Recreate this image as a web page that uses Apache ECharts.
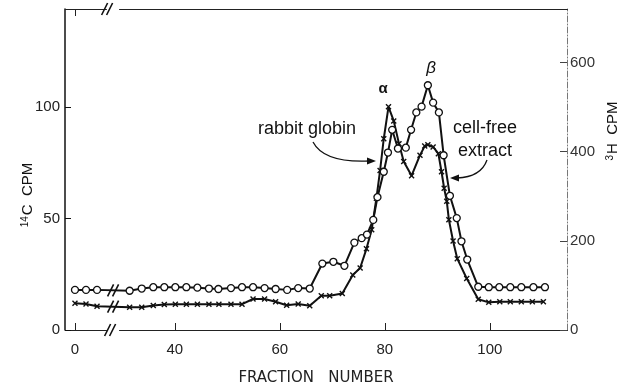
<!DOCTYPE html>
<html>
<head>
<meta charset="utf-8">
<script src="https://cdn.jsdelivr.net/npm/echarts@6/dist/echarts.min.js"></script>
<style>
html, body { margin: 0; padding: 0; background: #fff; }
#chart { width: 638px; height: 391px; }
</style>
</head>
<body>
<div id="chart"></div>
<script>
// rabbit globin, 14C (crosses) - fraction number / cpm
const fracGlobin = [0, 2.1, 4.2, 31.4, 33.7, 35.9, 38.0, 40.1, 42.2, 44.3, 46.5, 48.4, 50.7, 52.8, 54.9, 57.1,
  59.2, 61.3, 63.5, 65.7, 67.9, 69.5, 71.9, 73.9, 75.3, 76.5, 77.5, 78.4, 79.1, 79.8, 80.7, 81.7, 82.7, 83.6,
  85.1, 86.7, 87.6, 88.2, 89.2, 90.2, 90.8, 91.3, 91.8, 92.2, 93.0, 93.8, 95.6, 97.8, 99.8, 101.9, 103.9,
  106.0, 108.1, 110.2]
const cpm14C = [12.0, 11.7, 10.7, 10.2, 10.2, 11.0, 11.4, 11.6, 11.6, 11.6, 11.6, 11.6, 11.6, 11.6, 13.9, 13.9,
  12.7, 11.1, 11.7, 10.9, 15.4, 15.4, 16.4, 24.7, 27.8, 36.4, 45.0, 59.1, 71.6, 85.8, 100.1, 93.8, 83.6, 75.6,
  69.2, 78.4, 82.5, 83.1, 82.1, 79.1, 71.0, 63.6, 57.8, 49.5, 39.9, 32.0, 23.1, 13.8, 12.4, 12.7, 12.7,
  12.7, 12.7, 12.7]

// cell-free extract, 3H (open circles)
const fracExtract = [0, 2.1, 4.2, 31.4, 33.7, 35.9, 38.0, 40.1, 42.2, 44.3, 46.5, 48.3, 50.7, 52.8, 54.9, 57.1,
  59.2, 61.4, 63.5, 65.7, 68.1, 70.2, 72.3, 74.2, 75.6, 76.6, 77.8, 78.6, 79.8, 80.6, 81.4, 82.5, 84.0, 85.0,
  86.0, 87.0, 88.2, 89.2, 90.3, 91.2, 92.4, 93.7, 94.6, 95.7, 97.8, 99.8, 101.8, 103.9, 106.0, 108.3, 110.5]
const cpm3H = [90, 90, 90, 88, 93, 96, 96, 96, 96, 95, 93, 92, 94, 96, 96, 94,
  92, 90, 94, 93, 149, 153, 144, 196, 206, 214, 247, 298, 355, 398, 449, 407, 409, 449,
  488, 501, 549, 510, 488, 392, 301, 251, 199, 158, 97, 96, 96, 96, 96, 96, 96]

const xTicks = [0, 40, 60, 80, 100]
const leftTicks = [0, 50, 100]
const rightTicks = [0, 200, 400, 600]
const xBreak = { start: 6, end: 29.5 }

const font = 'Liberation Sans, Arial, sans-serif'
const ink = '#111'

function pairs(xs, ys) {
  return xs.map((x, i) => [x, ys[i]])
}

let myChart = echarts.init(document.getElementById('chart'))

const xAxisBase = {
  type: 'value',
  min: -1.9,
  max: 114.7,
  breaks: [{ start: xBreak.start, end: xBreak.end, gap: '2.63%' }],
  breakArea: { show: false },
  splitLine: { show: false },
  axisLine: { show: true, onZero: false, lineStyle: { color: '#222', width: 1 } }
}

myChart.setOption({
  animation: false,
  textStyle: { fontFamily: font, color: ink },
  grid: { left: 65, right: 71, top: 9, bottom: 58 },
  xAxis: [
    Object.assign({}, xAxisBase, {
      position: 'bottom',
      name: 'FRACTION   NUMBER',
      nameLocation: 'middle',
      nameGap: 41,
      nameTextStyle: { fontSize: 15, fontFamily: 'DejaVu Sans', color: '#222' },
      axisTick: { inside: true, length: 7, customValues: xTicks, lineStyle: { color: '#222' } },
      axisLabel: { customValues: xTicks, fontSize: 15, margin: 12, color: '#222' }
    }),
    Object.assign({}, xAxisBase, {
      position: 'top',
      axisTick: { inside: true, length: 7, customValues: [0], lineStyle: { color: '#222' } },
      axisLabel: { show: false }
    })
  ],
  yAxis: [
    {
      type: 'value',
      position: 'left',
      min: 0,
      max: 144,
      splitLine: { show: false },
      axisLine: { show: true, onZero: false, lineStyle: { color: '#111', width: 1.5 } },
      axisTick: { show: true, inside: true, length: 6, customValues: leftTicks, lineStyle: { color: '#111' } },
      axisLabel: { customValues: leftTicks, fontSize: 15, margin: 5, color: '#222' }
    },
    {
      type: 'value',
      position: 'right',
      min: 0,
      max: 720,
      splitLine: { show: false },
      axisLine: { show: true, onZero: false, lineStyle: { color: '#777', width: 1, type: [6, 2, 1, 2] } },
      axisTick: { show: true, inside: true, length: 7, customValues: rightTicks, lineStyle: { color: '#444' } },
      axisLabel: { customValues: rightTicks, fontSize: 15, margin: 3, color: '#333' }
    }
  ],
  series: [
    {
      name: 'rabbit globin',
      type: 'line',
      xAxisIndex: 0,
      yAxisIndex: 0,
      data: pairs(fracGlobin, cpm14C),
      symbol: 'path://M0,0L10,10M10,0L0,10',
      symbolSize: 5,
      lineStyle: { color: ink, width: 2 },
      itemStyle: { color: ink, borderColor: ink, borderWidth: 1.4 },
      z: 3
    },
    {
      name: 'cell-free extract',
      type: 'line',
      xAxisIndex: 0,
      yAxisIndex: 1,
      data: pairs(fracExtract, cpm3H),
      symbol: 'circle',
      symbolSize: 7,
      showAllSymbol: true,
      lineStyle: { color: ink, width: 2 },
      itemStyle: { color: '#fff', borderColor: ink, borderWidth: 1.3 },
      z: 4
    }
  ]
})

// break marks "//" and the hand lettered notes
const bx = (myChart.convertToPixel({ xAxisIndex: 0 }, xBreak.start) +
  myChart.convertToPixel({ xAxisIndex: 0 }, xBreak.end)) / 2
const yGlobin = myChart.convertToPixel({ yAxisIndex: 0 }, (cpm14C[2] + cpm14C[3]) / 2)
const yExtract = myChart.convertToPixel({ yAxisIndex: 1 }, (cpm3H[2] + cpm3H[3]) / 2)
const yBottom = myChart.convertToPixel({ yAxisIndex: 0 }, 0)
const yTop = myChart.convertToPixel({ yAxisIndex: 0 }, 144)

function slashes(cx, cy) {
  const out = []
  ;[-2.5, 2.5].forEach(function(dx) {
    out.push({
      type: 'line',
      shape: { x1: cx + dx - 3, y1: cy + 6, x2: cx + dx + 3, y2: cy - 6 },
      style: { stroke: ink, lineWidth: 1.6 },
      z: 20
    })
  })
  return out
}

let graphics = []
graphics = graphics.concat(slashes(bx - 3, yBottom), slashes(bx - 6, yTop),
  slashes(bx, yGlobin), slashes(bx, yExtract))

graphics.push(
  { type: 'text', x: 383, y: 89, style: { text: 'α', font: 'bold 15px ' + font, fill: ink, align: 'center', verticalAlign: 'middle' }, z: 20 },
  { type: 'text', x: 431, y: 68, style: { text: 'β', font: 'italic 17px ' + font, fill: ink, align: 'center', verticalAlign: 'middle' }, z: 20 },
  { type: 'text', x: 307, y: 129, style: { text: 'rabbit globin', font: '18px ' + font, fill: ink, align: 'center', verticalAlign: 'middle' }, z: 20 },
  { type: 'text', x: 485, y: 128, style: { text: 'cell-free', font: '18px ' + font, fill: ink, align: 'center', verticalAlign: 'middle' }, z: 20 },
  { type: 'text', x: 485, y: 151, style: { text: 'extract', font: '18px ' + font, fill: ink, align: 'center', verticalAlign: 'middle' }, z: 20 },
  {
    type: 'bezierCurve',
    shape: { x1: 313, y1: 142, cpx1: 324, cpy1: 163, x2: 369, y2: 161 },
    style: { stroke: ink, lineWidth: 1.3, fill: null },
    z: 20
  },
  { type: 'polygon', shape: { points: [[376, 161], [367, 157.5], [367, 164.5]] }, style: { fill: ink }, z: 20 },
  {
    type: 'bezierCurve',
    shape: { x1: 487, y1: 160, cpx1: 481, cpy1: 177, x2: 457, y2: 178 },
    style: { stroke: ink, lineWidth: 1.3, fill: null },
    z: 20
  },
  { type: 'polygon', shape: { points: [[450, 178], [459, 174.5], [459, 181.5]] }, style: { fill: ink }, z: 20 },
  {
    type: 'text', x: 28, y: 195, rotation: Math.PI / 2,
    style: {
      text: '{s|14}C  CPM', font: '15px ' + font, fill: ink, align: 'center', verticalAlign: 'middle',
      rich: { s: { fontSize: 10, verticalAlign: 'top', padding: [0, 1, 6, 0] } }
    },
    z: 20
  },
  {
    type: 'text', x: 613, y: 131, rotation: Math.PI / 2,
    style: {
      text: '{s|3}H  CPM', font: '15px ' + font, fill: ink, align: 'center', verticalAlign: 'middle',
      rich: { s: { fontSize: 10, verticalAlign: 'top', padding: [0, 1, 6, 0] } }
    },
    z: 20
  }
)

myChart.setOption({ graphic: graphics })
</script>
</body>
</html>
